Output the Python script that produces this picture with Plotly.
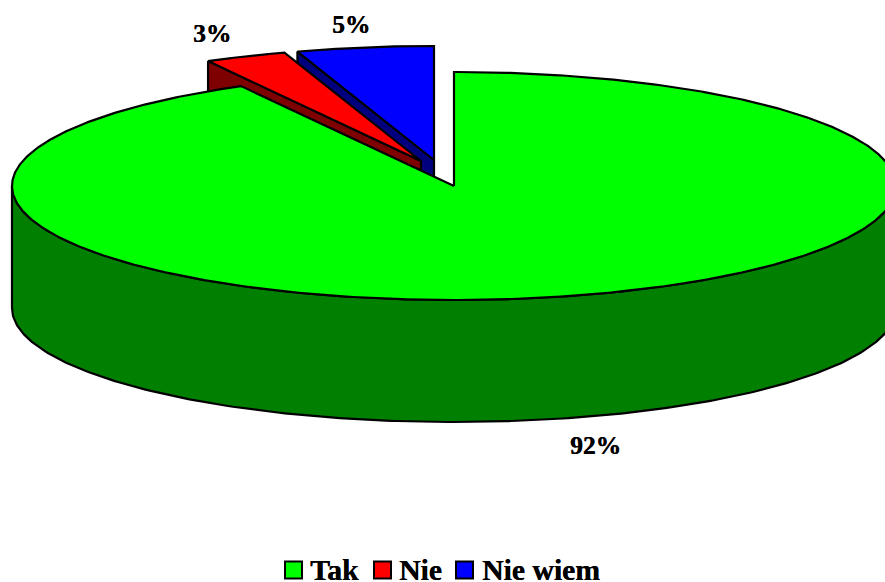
import math
import plotly.graph_objects as go

categories = ["Tak", "Nie", "Nie wiem"]
values = [92, 3, 5]
top_colors = ["#00FF00", "#FF0000", "#0000FF"]
side_colors = ["#007F00", "#7F0000", "#00007F"]

# Pie geometry in the 885x582 page frame
CX, CY, RX, RY, DEPTH = 454, 186, 442, 114, 122
centres = [(CX, CY), (421, 161), (434, 160)]
label_pos = [(595, 445), (211.5, 33), (350.5, 24)]
legend_box_x = [293.5, 382.5, 464.5]
legend_text_x = [310, 399, 482]
LEGEND_Y = 570
FONT = "Liberation Serif"
HEAVY = "0.4px 0 0 black"


def rim(cx, cy, a0, a1, n=240, dy=0):
    xs, ys = [], []
    for i in range(n + 1):
        t = math.radians(a0 + (a1 - a0) * i / n)
        xs.append(cx + RX * math.sin(t))
        ys.append(cy + dy - RY * math.cos(t))
    return xs, ys


total = sum(values)
bounds = [0]
for v in values:
    bounds.append(bounds[-1] + 360 * v / total)

fig = go.Figure()


def poly(xs, ys, fill):
    fig.add_trace(go.Scatter(
        x=xs, y=ys, mode="lines", fill="toself", fillcolor=fill,
        line=dict(color="black", width=2.2), hoverinfo="skip", showlegend=False,
    ))


# exploded slices, back to front: blue, then red
for i in (2, 1):
    cx, cy = centres[i]
    a0, a1 = bounds[i], bounds[i + 1]
    ex, ey = rim(cx, cy, a0 - 360, a0 - 360, n=1)
    poly([ex[0], cx, cx, ex[0], ex[0]],
         [ey[0], cy, cy + DEPTH, ey[0] + DEPTH, ey[0]], side_colors[i])
    xs, ys = rim(cx, cy, a0 - 360, a1 - 360)
    poly([cx] + xs + [cx], [cy] + ys + [cy], top_colors[i])

# main slice: outer wall, then top face
xs, ys = rim(CX, CY, 90, 270)
bx, by = rim(CX, CY, 270, 90, dy=DEPTH)
poly(xs + bx + xs[:1], ys + by + ys[:1], side_colors[0])
xs, ys = rim(CX, CY, bounds[0], bounds[1], n=720)
poly([CX] + xs + [CX], [CY] + ys + [CY], top_colors[0])

# legend swatches
fig.add_trace(go.Scatter(
    x=legend_box_x, y=[LEGEND_Y] * 3, mode="markers", hoverinfo="skip", showlegend=False,
    marker=dict(symbol="square", size=17, color=top_colors, line=dict(color="black", width=2)),
))

for v, (x, y) in zip(values, label_pos):
    fig.add_annotation(x=x, y=y, text=f"{v}%", showarrow=False, xanchor="center", yanchor="middle",
                       font=dict(family=FONT, size=25.5, color="black", weight=700, shadow=HEAVY))
for c, x in zip(categories, legend_text_x):
    fig.add_annotation(x=x, y=LEGEND_Y, text=c, showarrow=False, xanchor="left", yanchor="middle",
                       xshift=-2, font=dict(family=FONT, size=29.7, color="black", weight=700, shadow=HEAVY))

fig.update_layout(
    width=885, height=582, margin=dict(l=0, r=0, t=0, b=0),
    paper_bgcolor="white", plot_bgcolor="white", showlegend=False,
    xaxis=dict(range=[0, 885], visible=False, fixedrange=True),
    yaxis=dict(range=[582, 0], visible=False, fixedrange=True),
)
fig.write_html("out.html", config={"displayModeBar": False},
               post_script="document.body.style.margin='0';document.documentElement.style.overflow='hidden';")
